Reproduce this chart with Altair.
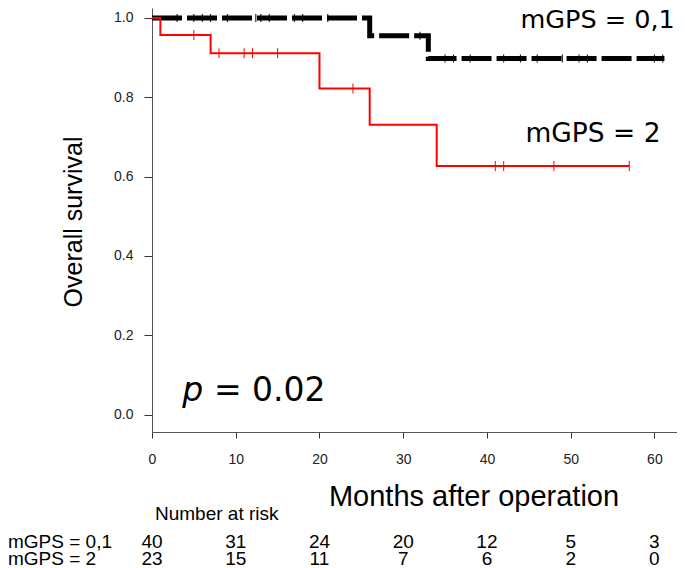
import altair as alt
import pandas as pd

# ---- Kaplan-Meier step data ----
red_t = [0, 1, 7, 20, 26, 34, 57]
red_s = [1.0, 0.957, 0.911, 0.822, 0.731, 0.627, 0.627]
blk_t = [0, 26, 33, 61.2]
blk_s = [1.0, 0.955, 0.898, 0.898]

red_cens = [5, 8, 11, 12, 15, 24, 41, 42, 48, 57]
blk_cens = [3, 5, 6, 7, 9, 12.4, 13, 14, 17, 18, 21, 32,
            35, 36, 38, 42, 44, 46, 49, 51, 52, 60, 61]

risk_months = [0, 10, 20, 30, 40, 50, 60]
risk_01 = [40, 31, 24, 20, 12, 5, 3]
risk_2 = [23, 15, 11, 7, 6, 2, 0]

x_ticks = [0, 10, 20, 30, 40, 50, 60]
y_ticks = [0.0, 0.2, 0.4, 0.6, 0.8, 1.0]


def surv_at(t, times, surv):
    val = surv[0]
    for ti, si in zip(times, surv):
        if ti <= t:
            val = si
    return val


df_red = pd.DataFrame({"t": red_t, "s": red_s})
df_blk = pd.DataFrame({"t": blk_t, "s": blk_s})
df_red_c = pd.DataFrame({"t": red_cens, "s": [surv_at(t, red_t, red_s) for t in red_cens]})
df_blk_c = pd.DataFrame({"t": blk_cens, "s": [surv_at(t, blk_t, blk_s) for t in blk_cens]})
df_risk1 = pd.DataFrame({"m": risk_months, "n": risk_01})
df_risk2 = pd.DataFrame({"m": risk_months, "n": risk_2})
one = pd.DataFrame({"a": [0]})

xs = alt.Scale(domain=[0, 62.7], nice=False, zero=False)
ys = alt.Scale(domain=[-0.0439, 1.0252], nice=False, zero=False)

FONT = "Liberation Sans"

xaxis = alt.Axis(values=x_ticks, format="d", title=None, grid=False,
                 tickSize=6, labelPadding=14, labelFont=FONT, labelFontSize=14,
                 labelColor="#222222", domainColor="#555555", tickColor="#333333",
                 labelFlush=False, labelOverlap=False)
yaxis = alt.Axis(values=y_ticks, format=".1f", title=None, grid=False,
                 tickSize=8, labelPadding=11, labelFont=FONT, labelFontSize=14,
                 labelColor="#222222", domainColor="#555555", tickColor="#333333",
                 labelFlush=False, labelOverlap=False)


def X(field=None, datum=None):
    if datum is not None:
        return alt.X(datum=datum, type="quantitative", scale=xs, axis=xaxis)
    return alt.X(field, type="quantitative", scale=xs, axis=xaxis)


def Y(field=None, datum=None):
    if datum is not None:
        return alt.Y(datum=datum, type="quantitative", scale=ys, axis=yaxis)
    return alt.Y(field, type="quantitative", scale=ys, axis=yaxis)


black_line = alt.Chart(df_blk).mark_line(
    interpolate="step-after", color="black", strokeWidth=5,
    strokeDash=[30, 5], strokeCap="butt"
).encode(x=X("t"), y=Y("s"))

black_cens = alt.Chart(df_blk_c).mark_tick(
    orient="vertical", color="black", size=8, thickness=1, opacity=1
).encode(x=X("t"), y=Y("s"))

red_line = alt.Chart(df_red).mark_line(
    interpolate="step-after", color="#ff0000", strokeWidth=2
).encode(x=X("t"), y=Y("s"))

red_cens_m = alt.Chart(df_red_c).mark_tick(
    orient="vertical", color="#ff0000", size=10, thickness=1, opacity=1
).encode(x=X("t"), y=Y("s"))


def label(text, x, y, size, font="DejaVu Sans", style="normal"):
    return alt.Chart(one).mark_text(
        text=text, align="left", baseline="alphabetic", font=font,
        fontSize=size, fontStyle=style, color="black"
    ).encode(x=X(datum=x), y=Y(datum=y))


lab01 = label("mGPS = 0,1", 44.0, 0.975, 25.5)
lab2 = label("mGPS = 2", 44.6, 0.6873, 26.5)
lab_p = label("p", 3.6, 0.0343, 33, style="italic")
lab_pv = label("= 0.02", 7.4, 0.0343, 33)


def ptext(text, x, y, size, align="left", angle=0):
    return alt.Chart(one).mark_text(
        text=text, align=align, baseline="alphabetic", angle=angle,
        font=FONT, fontSize=size, color="black"
    ).encode(x=alt.value(x), y=alt.value(y))


ytitle = ptext("Overall survival", -70, 214, 25, align="center", angle=270)
xtitle = ptext("Months after operation", 322, 498, 29, align="center")
risk_title = ptext("Number at risk", 3, 512, 19)
row1_lab = ptext("mGPS = 0,1", -144, 540, 19)
row2_lab = ptext("mGPS = 2", -144, 557, 19)

row1 = alt.Chart(df_risk1).mark_text(
    align="center", baseline="alphabetic", font=FONT, fontSize=19, color="black"
).encode(x=X("m"), y=alt.value(540), text="n:Q")

row2 = alt.Chart(df_risk2).mark_text(
    align="center", baseline="alphabetic", font=FONT, fontSize=19, color="black"
).encode(x=X("m"), y=alt.value(557), text="n:Q")

chart = alt.layer(
    black_line, black_cens, red_line, red_cens_m,
    lab01, lab2, lab_p, lab_pv,
    ytitle, xtitle, risk_title, row1_lab, row2_lab, row1, row2
).properties(
    width=525, height=424,
    autosize=alt.AutoSizeParams(type="none"),
    padding={"left": 144, "top": 0, "right": 0, "bottom": 136},
    background="white"
).configure_view(stroke=None)

chart.save("out.html", embed_options={"renderer": "svg", "actions": False})
